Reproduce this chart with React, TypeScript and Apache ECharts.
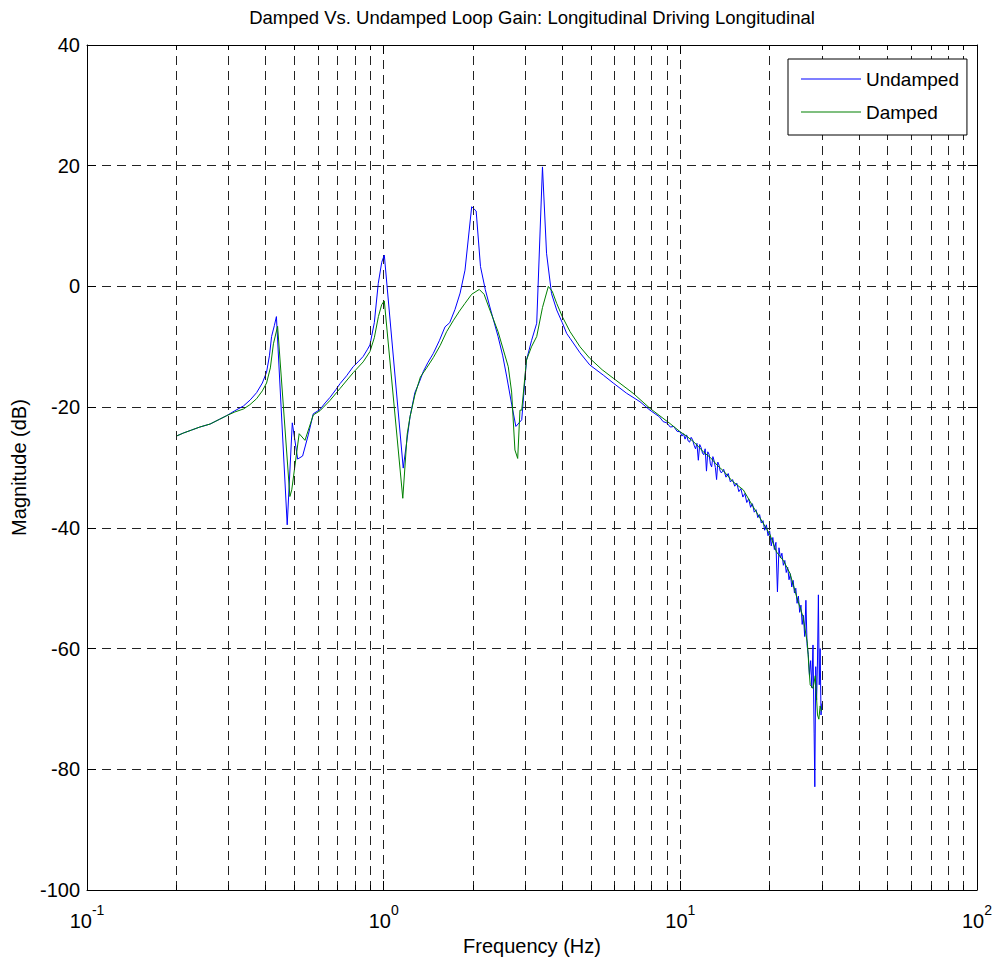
import React, { useEffect, useRef } from 'react';
import * as echarts from 'echarts';

const TITLE = 'Damped Vs. Undamped Loop Gain: Longitudinal Driving Longitudinal';
const X_NAME = 'Frequency (Hz)';
const Y_NAME = 'Magnitude (dB)';
const SERIES_NAMES = ['Undamped', 'Damped'];
const SERIES_COLORS = ['#0000ff', '#008000'];
const X_MIN = 0.1;
const X_MAX = 100;
const Y_MIN = -100;
const Y_MAX = 40;
const Y_STEP = 20;
const DECADES = [0.1, 1, 10];
const MINOR_MULTS = [2, 3, 4, 5, 6, 7, 8, 9];

// [frequency Hz, magnitude dB]
const undamped: [number, number][] = [
  [0.2, -24.8], [0.211, -24.3], [0.225, -23.8], [0.24, -23.3], [0.26, -22.8], [0.28, -22.0],
  [0.296, -21.4], [0.315, -20.6], [0.337, -19.8], [0.355, -18.8], [0.373, -17.6], [0.39, -16.0],
  [0.403, -14.2], [0.412, -11.5], [0.419, -8.3], [0.428, -6.5], [0.435, -5.0], [0.473, -39.5],
  [0.492, -22.6], [0.513, -28.6], [0.533, -28.1], [0.557, -24.6], [0.579, -21.1], [0.61, -20.4],
  [0.635, -19.3], [0.659, -18.4], [0.69, -17.1], [0.713, -16.1], [0.75, -14.8], [0.789, -13.3],
  [0.82, -12.5], [0.853, -11.6], [0.88, -10.5], [0.899, -9.7], [0.93, -6.0], [0.959, 0.5],
  [0.985, 4.0], [1.005, 5.2], [1.164, -30.1], [1.227, -21.6], [1.274, -17.6], [1.32, -15.8],
  [1.36, -14.1], [1.41, -12.6], [1.47, -11.1], [1.54, -9.0], [1.61, -6.7], [1.67, -6.0],
  [1.74, -3.8], [1.81, -1.1], [1.88, 2.7], [1.98, 13.2], [2.05, 12.5], [2.12, 3.3],
  [2.2, -0.5], [2.28, -3.4], [2.43, -8.3], [2.52, -11.5], [2.6, -15.0], [2.7, -19.5],
  [2.79, -23.2], [2.92, -22.1], [3.03, -12.2], [3.15, -9.0], [3.28, -6.1], [3.43, 19.8],
  [3.54, 5.5], [3.68, -1.2], [3.83, -3.9], [4.0, -6.0], [4.14, -7.8], [4.25, -8.6],
  [4.59, -11.0], [4.95, -13.0], [5.5, -14.7], [5.94, -16.0], [6.59, -17.7], [7.31, -19.1],
  [7.9, -20.5], [8.5, -21.6], [8.75, -22.4], [9.0, -22.6], [9.25, -23.3], [9.5, -23.2], [9.75, -24.0],
  [10.0, -24.1], [10.125, -24.8], [10.25, -24.4], [10.375, -25.3], [10.5, -24.6], [10.625, -25.6],
  [10.75, -25.8], [10.875, -25.0], [11.0, -25.4], [11.125, -26.3], [11.25, -26.9], [11.375, -26.0],
  [11.5, -28.8], [11.625, -26.2], [11.75, -26.7], [11.875, -27.6], [12.0, -27.9], [12.125, -26.9],
  [12.25, -30.6], [12.375, -27.4], [12.5, -27.8], [12.625, -29.4], [12.75, -29.9], [12.875, -28.2],
  [13.0, -28.9], [13.125, -30.0], [13.25, -32.0], [13.375, -29.1], [13.5, -29.6], [13.625, -30.6],
  [13.75, -30.9], [14.0, -30.3], [14.25, -31.6], [14.5, -31.0], [14.75, -32.4], [15.0, -32.0],
  [15.25, -33.1], [15.5, -32.6], [15.75, -34.0], [16.0, -33.5], [16.25, -34.9], [16.5, -34.3],
  [16.75, -35.8], [17.0, -35.2], [17.25, -36.6], [17.5, -36.0], [17.75, -37.4], [18.0, -37.0],
  [18.25, -38.3], [18.5, -37.8], [18.75, -39.2], [19.0, -38.8], [19.25, -40.4], [19.5, -39.5],
  [19.75, -41.3], [20.0, -40.5], [20.25, -43.0], [20.5, -41.6], [20.75, -43.6], [21.0, -42.4],
  [21.25, -50.6], [21.5, -43.3], [21.75, -45.0], [22.0, -44.2], [22.25, -46.2], [22.5, -45.4],
  [22.75, -47.4], [23.0, -46.5], [23.25, -48.6], [23.5, -47.6], [23.75, -49.8], [24.0, -48.7],
  [24.25, -50.8], [24.5, -50.0], [24.75, -52.5], [25.0, -51.3], [25.25, -54.0], [25.5, -52.8],
  [25.75, -56.0], [26.0, -54.5], [26.25, -58.0], [26.5, -52.0], [26.75, -59.5], [27.0, -61.0],
  [27.25, -64.5], [27.5, -62.0], [27.75, -66.5], [28.0, -59.4], [28.25, -74.0], [28.4, -82.9],
  [28.6, -63.0], [28.8, -68.5], [29.0, -61.9], [29.2, -51.1], [29.4, -66.0], [29.6, -60.0],
  [29.8, -71.0], [30.0, -69.1],
];

const damped: [number, number][] = [
  [0.2, -24.8], [0.211, -24.3], [0.225, -23.8], [0.24, -23.3], [0.26, -22.8], [0.28, -22.0],
  [0.296, -21.4], [0.315, -20.8], [0.337, -20.3], [0.354, -19.6], [0.373, -18.6], [0.39, -17.3],
  [0.403, -16.0], [0.415, -13.5], [0.425, -9.5], [0.439, -6.6], [0.483, -34.8], [0.49, -33.7],
  [0.519, -24.4], [0.543, -25.5], [0.579, -21.3], [0.61, -20.6], [0.659, -18.9], [0.713, -16.9],
  [0.789, -14.3], [0.853, -12.5], [0.899, -10.8], [0.93, -8.5], [0.96, -5.0], [0.985, -3.0],
  [1.005, -2.4], [1.16, -35.1], [1.2, -24.5], [1.227, -21.6], [1.274, -18.0], [1.33, -15.0],
  [1.4, -13.4], [1.47, -11.8], [1.55, -9.8], [1.63, -7.5], [1.72, -5.6], [1.8, -4.1],
  [1.88, -2.8], [1.98, -1.3], [2.1, -0.5], [2.18, -1.3], [2.26, -3.4], [2.43, -7.5],
  [2.63, -13.3], [2.7, -17.5], [2.77, -27.1], [2.83, -28.5], [2.88, -20.5], [2.92, -20.5],
  [3.03, -12.2], [3.15, -10.0], [3.28, -8.3], [3.43, -3.5], [3.59, 0.0], [3.7, -0.8],
  [3.83, -2.8], [4.0, -5.0], [4.25, -7.5], [4.59, -10.0], [4.95, -11.9], [5.45, -13.8],
  [5.94, -15.2], [6.93, -17.7], [7.9, -20.2], [9.22, -22.7], [10.0, -24.1], [10.5, -24.8],
  [11.0, -25.6], [11.5, -26.5], [12.0, -27.5], [12.6, -28.3], [13.3, -29.6], [14.0, -30.6],
  [15.0, -32.3], [16.3, -33.7], [17.6, -36.5], [19.0, -39.2], [20.0, -41.0], [21.1, -44.0],
  [22.3, -45.5], [23.4, -47.5], [24.7, -51.5], [25.9, -54.7], [26.8, -59.1], [27.2, -64.0],
  [27.4, -66.0], [28.0, -66.6], [28.5, -64.5], [29.0, -71.0], [29.3, -71.7], [29.6, -69.5],
  [29.9, -70.4],
];

const FONT = '"Liberation Sans", Arial, Helvetica, sans-serif';
const GRID_COLOR = '#222';
const GRID_DASH = [9, 6];
const PX_PER_DB = 845 / (Y_MAX - Y_MIN);
const MINOR_TICK_DB = 5 / PX_PER_DB;

function buildOption() {
  const minorFreqs: number[] = [];
  DECADES.forEach((d) => MINOR_MULTS.forEach((m) => minorFreqs.push(+(d * m).toPrecision(6))));

  const gridMarks: any[] = minorFreqs.map((f) => ({ xAxis: f }));
  const tickMarks: any[] = [];
  minorFreqs.forEach((f) => {
    tickMarks.push([{ coord: [f, Y_MIN] }, { coord: [f, Y_MIN + MINOR_TICK_DB] }]);
    tickMarks.push([{ coord: [f, Y_MAX] }, { coord: [f, Y_MAX - MINOR_TICK_DB] }]);
  });

  const axisLineStyle = { color: '#000', width: 1 };

  return {
    animation: false,
    backgroundColor: '#fff',
    textStyle: { fontFamily: FONT },
    title: {
      text: TITLE,
      left: 532,
      textAlign: 'center',
      top: 8,
      padding: 0,
      textStyle: { fontFamily: FONT, fontSize: 18.5, fontWeight: 'normal', color: '#000' },
    },
    legend: {
      data: SERIES_NAMES.map((n, i) => ({
        name: n,
        icon: 'rect',
        itemStyle: { color: SERIES_COLORS[i], borderWidth: 0 },
      })),
      orient: 'vertical',
      left: 788,
      top: 59,
      backgroundColor: '#fff',
      borderColor: '#000',
      borderWidth: 1,
      borderRadius: 0,
      padding: [9, 8, 12, 13],
      itemGap: 11,
      itemWidth: 60,
      itemHeight: 1,
      z: 10,
      textStyle: { fontFamily: FONT, fontSize: 19, color: '#000', lineHeight: 22 },
    },
    grid: { left: 87, right: 23, top: 45, bottom: 78, containLabel: false },
    xAxis: [
      {
        type: 'log',
        logBase: 10,
        min: X_MIN,
        max: X_MAX,
        position: 'bottom',
        name: X_NAME,
        nameLocation: 'middle',
        nameGap: 46,
        nameTextStyle: { fontFamily: FONT, fontSize: 20, color: '#000' },
        axisLine: { show: true, onZero: false, lineStyle: axisLineStyle },
        axisTick: { show: true, inside: true, length: 9, lineStyle: axisLineStyle },
        minorTick: { show: false },
        splitLine: { show: true, lineStyle: { color: GRID_COLOR, type: GRID_DASH, width: 1 } },
        axisLabel: {
          show: true,
          margin: 13,
          showMinLabel: true,
          showMaxLabel: true,
          formatter: (v: number) => `{b|10}{s|${Math.round(Math.log10(v))}}`,
          rich: {
            b: { fontFamily: FONT, fontSize: 20, color: '#000', lineHeight: 28, verticalAlign: 'bottom' },
            s: { fontFamily: FONT, fontSize: 14, color: '#000', lineHeight: 12, verticalAlign: 'top' },
          },
        },
      },
      {
        type: 'log',
        logBase: 10,
        min: X_MIN,
        max: X_MAX,
        position: 'top',
        axisLine: { show: true, onZero: false, lineStyle: axisLineStyle },
        axisTick: { show: true, inside: true, length: 9, lineStyle: axisLineStyle },
        axisLabel: { show: false },
        splitLine: { show: false },
      },
    ],
    yAxis: [
      {
        type: 'value',
        min: Y_MIN,
        max: Y_MAX,
        interval: Y_STEP,
        position: 'left',
        name: Y_NAME,
        nameLocation: 'middle',
        nameGap: 54,
        nameRotate: 90,
        nameTextStyle: { fontFamily: FONT, fontSize: 20, color: '#000' },
        axisLine: { show: true, onZero: false, lineStyle: axisLineStyle },
        axisTick: { show: true, inside: true, length: 9, lineStyle: axisLineStyle },
        splitLine: { show: true, lineStyle: { color: GRID_COLOR, type: GRID_DASH, width: 1 } },
        axisLabel: { fontFamily: FONT, fontSize: 20, color: '#000', margin: 7 },
      },
      {
        type: 'value',
        min: Y_MIN,
        max: Y_MAX,
        interval: Y_STEP,
        position: 'right',
        axisLine: { show: true, onZero: false, lineStyle: axisLineStyle },
        axisTick: { show: true, inside: true, length: 9, lineStyle: axisLineStyle },
        splitLine: { show: false },
        axisLabel: { show: false },
      },
    ],
    series: [
      {
        name: '_grid',
        type: 'line',
        data: [],
        xAxisIndex: 0,
        yAxisIndex: 0,
        silent: true,
        z: 1,
        markLine: {
          silent: true,
          animation: false,
          symbol: ['none', 'none'],
          label: { show: false },
          emphasis: { disabled: true },
          lineStyle: { color: GRID_COLOR, type: GRID_DASH, width: 1 },
          data: gridMarks,
        },
      },
      {
        name: '_ticks',
        type: 'line',
        data: [],
        xAxisIndex: 0,
        yAxisIndex: 0,
        silent: true,
        z: 1,
        markLine: {
          silent: true,
          animation: false,
          symbol: ['none', 'none'],
          label: { show: false },
          emphasis: { disabled: true },
          lineStyle: { color: '#000', type: 'solid', width: 1 },
          data: tickMarks,
        },
      },
      {
        name: SERIES_NAMES[0],
        type: 'line',
        data: undamped,
        xAxisIndex: 0,
        yAxisIndex: 0,
        symbol: 'none',
        showSymbol: false,
        z: 3,
        lineStyle: { color: SERIES_COLORS[0], width: 1 },
        itemStyle: { color: SERIES_COLORS[0] },
        emphasis: { disabled: true },
      },
      {
        name: SERIES_NAMES[1],
        type: 'line',
        data: damped,
        xAxisIndex: 0,
        yAxisIndex: 0,
        symbol: 'none',
        showSymbol: false,
        z: 4,
        lineStyle: { color: SERIES_COLORS[1], width: 1 },
        itemStyle: { color: SERIES_COLORS[1] },
        emphasis: { disabled: true },
      },
    ],
  };
}

export default function App() {
  const ref = useRef<HTMLDivElement>(null);
  useEffect(() => {
    document.body.style.margin = '0';
    const chart = echarts.init(ref.current as HTMLDivElement, undefined, { renderer: 'svg' });
    chart.setOption(buildOption() as any);
    return () => chart.dispose();
  }, []);
  return <div ref={ref} style={{ width: 1000, height: 968 }} />;
}
